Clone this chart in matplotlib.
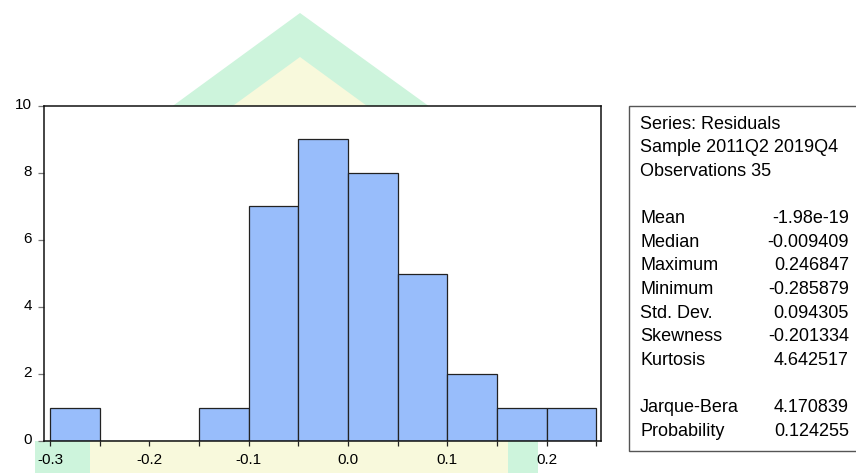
import matplotlib
matplotlib.use("Agg")
import matplotlib.pyplot as plt
import matplotlib.transforms as mtransforms
from matplotlib.patches import Polygon, Rectangle
from matplotlib.ticker import MultipleLocator, FormatStrFormatter

plt.rcParams['font.family'] = ['Liberation Sans', 'DejaVu Sans']

# histogram of the residuals
bin_edges = [-0.30, -0.25, -0.20, -0.15, -0.10, -0.05, 0.00, 0.05, 0.10, 0.15, 0.20, 0.25]
counts = [1, 0, 0, 1, 7, 9, 8, 5, 2, 1, 1]

# descriptive statistics panel
header_lines = ["Series: Residuals", "Sample 2011Q2 2019Q4", "Observations 35"]
stat_names = ["Mean", "Median", "Maximum", "Minimum", "Std. Dev.", "Skewness", "Kurtosis"]
stat_values = ["-1.98e-19", "-0.009409", "0.246847", "-0.285879", "0.094305", "-0.201334", "4.642517"]
test_names = ["Jarque-Bera", "Probability"]
test_values = ["4.170839", "0.124255"]

W, H = 856, 473
fig = plt.figure(figsize=(W / 100, H / 100), dpi=100)
fig.patch.set_facecolor('white')


def fx(px):
    return px / W


def fy(py):
    return 1 - py / H


# faint logo in the background
outer = [(35, 473), (35, 441), (44, 441), (44, 200), (300, 13), (538, 185), (538, 473)]
inner = [(90, 473), (90, 210), (300, 57), (508, 209), (508, 473)]
fig.add_artist(Polygon([(fx(x), fy(y)) for x, y in outer], closed=True,
                       transform=fig.transFigure, facecolor='#cdf4dc',
                       edgecolor='none', zorder=-2))
fig.add_artist(Polygon([(fx(x), fy(y)) for x, y in inner], closed=True,
                       transform=fig.transFigure, facecolor='#f8f9dc',
                       edgecolor='none', zorder=-1))

ax = fig.add_axes([fx(44), fy(441), fx(601) - fx(44), fy(106) - fy(441)])
ax.set_facecolor('white')
ax.set_zorder(1)

widths = [b - a for a, b in zip(bin_edges[:-1], bin_edges[1:])]
ax.bar(bin_edges[:-1], counts, width=widths, align='edge',
       color='#98bdfb', edgecolor='#222222', linewidth=0.9)

ax.set_xlim(-0.306, 0.2546)
ax.set_ylim(0, 10)
ax.xaxis.set_major_locator(MultipleLocator(0.1))
ax.xaxis.set_minor_locator(MultipleLocator(0.05))
ax.xaxis.set_major_formatter(FormatStrFormatter('%.1f'))
ax.yaxis.set_major_locator(MultipleLocator(2))

ax.tick_params(axis='x', which='both', direction='out', length=3.5, width=0.9,
               color='#222222', labelsize=11, pad=5, top=False)
ax.tick_params(axis='y', which='both', direction='out', length=4.5, width=0.9,
               color='#777777', labelsize=11, pad=4, right=False)
for lbl in ax.get_yticklabels():
    lbl.set_transform(lbl.get_transform() +
                      mtransforms.ScaledTranslation(0, 2 / 72, fig.dpi_scale_trans))
for sp in ax.spines.values():
    sp.set_color('#111111')
    sp.set_linewidth(1.1)

# statistics box
fig.add_artist(Rectangle((fx(629), fy(451)), fx(870) - fx(629), fy(106.5) - fy(451),
                         transform=fig.transFigure, facecolor='white',
                         edgecolor='#555555', linewidth=1.0, zorder=1))

rows = header_lines + [""] + list(zip(stat_names, stat_values)) + [""] + \
    list(zip(test_names, test_values))
y0, step = 124, 23.65
for k, row in enumerate(rows):
    y = fy(y0 + step * k)
    if isinstance(row, tuple):
        fig.text(fx(640), y, row[0], ha='left', va='center', fontsize=13, zorder=2)
        fig.text(fx(849), y, row[1], ha='right', va='center', fontsize=13, zorder=2)
    elif row:
        fig.text(fx(640), y, row, ha='left', va='center', fontsize=13, zorder=2)

fig.savefig('out.png', dpi=100)
